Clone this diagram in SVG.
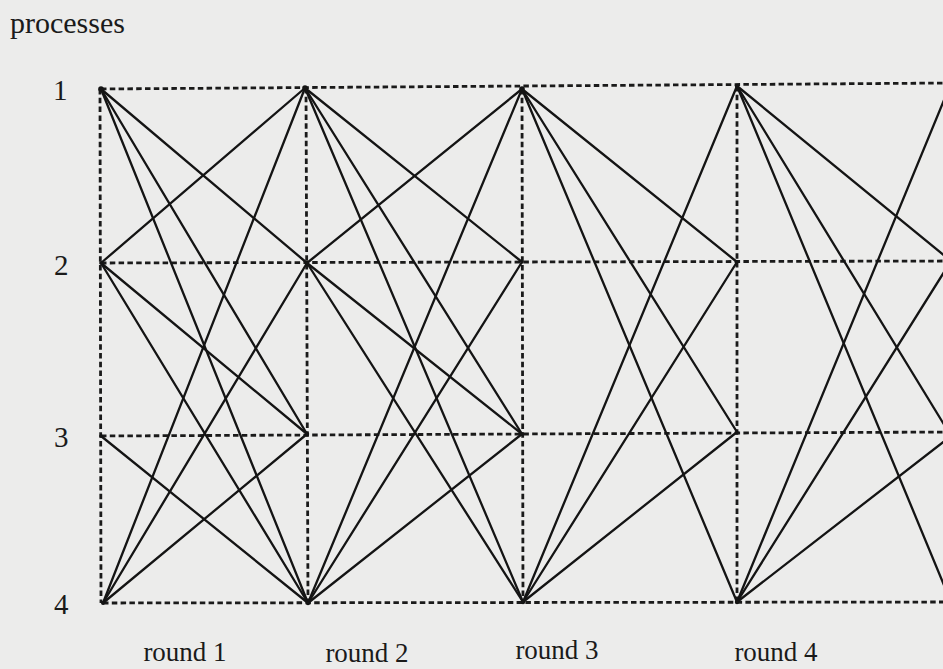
<svg xmlns="http://www.w3.org/2000/svg" width="943" height="669" viewBox="0 0 943 669">
<style>
.bg{fill:#ececeb}
.grid line{stroke:#1a1a1a;stroke-width:2.8;stroke-dasharray:5.5 3.3;fill:none}
.edges line{stroke:#141414;stroke-width:2.3;stroke-linecap:round}
.dot{fill:#141414}
text{font-family:"Liberation Serif","Times New Roman",serif;fill:#1a1a1a}
.lbl{font-size:30px}
.num{font-size:29px}
.rnd{font-size:27px;text-anchor:middle}
</style>
<rect class="bg" x="0" y="0" width="943" height="669"/>
<text class="lbl" x="10" y="33">processes</text>
<g id="row-labels">
<text class="num" x="53" y="100">1</text>
<text class="num" x="54" y="275">2</text>
<text class="num" x="54" y="447">3</text>
<text class="num" x="54" y="614">4</text>
</g>
<g id="round-labels">
<text class="rnd" x="185" y="661">round 1</text>
<text class="rnd" x="367" y="662">round 2</text>
<text class="rnd" x="557" y="659">round 3</text>
<text class="rnd" x="776" y="661">round 4</text>
</g>
<g class="grid" id="grid">
<line x1="101" y1="89" x2="951" y2="83"/>
<line x1="101" y1="263" x2="951" y2="261"/>
<line x1="101" y1="436" x2="951" y2="432"/>
<line x1="103" y1="603" x2="951" y2="602"/>
<line x1="100" y1="89" x2="101" y2="603"/>
<line x1="306" y1="88" x2="308" y2="603"/>
<line x1="522" y1="89" x2="523" y2="602"/>
<line x1="737" y1="86" x2="737" y2="602"/>
</g>
<g class="edges" id="connectors">
<!-- round 1 -->
<line x1="101" y1="89" x2="307" y2="263"/>
<line x1="101" y1="89" x2="307" y2="434"/>
<line x1="101" y1="89" x2="308" y2="603"/>
<line x1="101" y1="263" x2="305" y2="88"/>
<line x1="101" y1="263" x2="307" y2="434"/>
<line x1="101" y1="263" x2="308" y2="603"/>
<line x1="101" y1="436" x2="308" y2="603"/>
<line x1="103" y1="603" x2="305" y2="88"/>
<line x1="103" y1="603" x2="307" y2="263"/>
<line x1="103" y1="603" x2="307" y2="434"/>
<!-- round 2 -->
<line x1="305" y1="88" x2="522" y2="262"/>
<line x1="305" y1="88" x2="522" y2="434"/>
<line x1="305" y1="88" x2="523" y2="602"/>
<line x1="307" y1="263" x2="522" y2="89"/>
<line x1="307" y1="263" x2="522" y2="434"/>
<line x1="307" y1="263" x2="523" y2="602"/>
<line x1="308" y1="603" x2="522" y2="89"/>
<line x1="308" y1="603" x2="522" y2="262"/>
<line x1="308" y1="603" x2="522" y2="434"/>
<!-- round 3 -->
<line x1="522" y1="89" x2="737" y2="262"/>
<line x1="522" y1="89" x2="737" y2="432"/>
<line x1="522" y1="89" x2="737" y2="602"/>
<line x1="523" y1="602" x2="737" y2="86"/>
<line x1="523" y1="602" x2="737" y2="262"/>
<line x1="523" y1="602" x2="737" y2="432"/>
<!-- round 4 -->
<line x1="737" y1="86" x2="951" y2="261"/>
<line x1="737" y1="86" x2="951" y2="436"/>
<line x1="737" y1="86" x2="951" y2="602"/>
<line x1="737" y1="602" x2="951" y2="83"/>
<line x1="737" y1="602" x2="951" y2="261"/>
<line x1="737" y1="602" x2="951" y2="436"/>
</g>
<g id="p1-r0"><circle class="dot" cx="101" cy="89" r="2.8"/></g>
<g id="p2-r0"><circle class="dot" cx="101" cy="263" r="1.8"/></g>
<g id="p3-r0"><circle class="dot" cx="101" cy="436" r="1.8"/></g>
<g id="p4-r0"><circle class="dot" cx="103" cy="603" r="2"/></g>
<g id="p1-r1"><circle class="dot" cx="305" cy="88" r="2.8"/></g>
<g id="p2-r1"><circle class="dot" cx="307" cy="263" r="2.2"/></g>
<g id="p3-r1"><circle class="dot" cx="307" cy="434" r="2.2"/></g>
<g id="p4-r1"><circle class="dot" cx="308" cy="603" r="2.2"/></g>
<g id="p1-r2"><circle class="dot" cx="522" cy="89" r="2.8"/></g>
<g id="p2-r2"><circle class="dot" cx="522" cy="262" r="1.6"/></g>
<g id="p3-r2"><circle class="dot" cx="522" cy="434" r="1.8"/></g>
<g id="p4-r2"><circle class="dot" cx="523" cy="602" r="2.2"/></g>
<g id="p1-r3"><circle class="dot" cx="737" cy="86" r="2.2"/></g>
<g id="p2-r3"><circle class="dot" cx="737" cy="262" r="1.6"/></g>
<g id="p3-r3"><circle class="dot" cx="737" cy="432" r="1.6"/></g>
<g id="p4-r3"><circle class="dot" cx="737" cy="602" r="2.2"/></g>
</svg>
